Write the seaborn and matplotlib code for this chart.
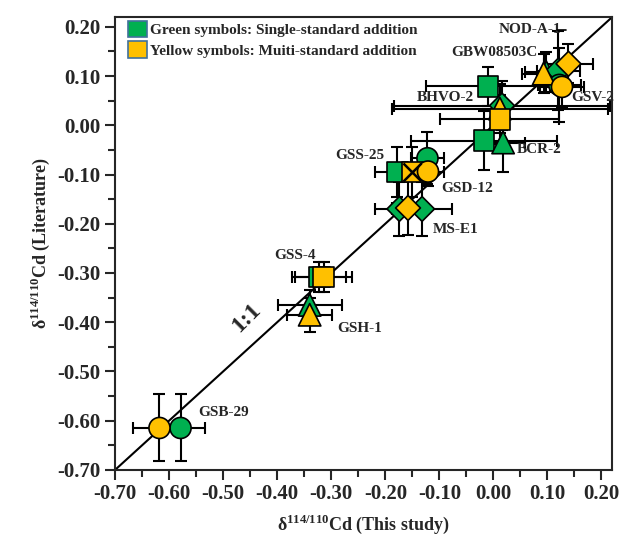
import numpy as np
import pandas as pd
import seaborn as sns
import matplotlib.pyplot as plt
from matplotlib.ticker import MultipleLocator, FormatStrFormatter
from matplotlib.patches import Patch

sns.set_style("ticks")
plt.rcParams['font.family'] = ['Liberation Serif', 'DejaVu Serif']
plt.rcParams['font.weight'] = 'bold'
plt.rcParams['axes.unicode_minus'] = False
plt.rcParams['mathtext.fontset'] = 'custom'
plt.rcParams['mathtext.rm'] = 'Liberation Serif:bold'
plt.rcParams['mathtext.bf'] = 'Liberation Serif:bold'

# green = single-standard addition, yellow = multi-standard addition
green_sample = ["GSB-29", "GSH-1", "GSS-4", "MS-E1", "MS-E1", "GSS-25", "GSD-12",
                "BCR-2", "BCR-2", "BHVO-2", "BHVO-2", "GBW08503C", "NOD-A-1", "GSV-2"]
green_shape = ["circle", "triangle", "square", "diamond", "diamond", "square", "circle",
               "square", "triangle", "square", "diamond", "triangle", "diamond", "circle"]
green_x = [-0.579, -0.340, -0.322, -0.174, -0.132, -0.178, -0.122,
           -0.017, 0.018, -0.010, 0.016, 0.098, 0.120, 0.122]
green_y = [-0.615, -0.365, -0.308, -0.170, -0.170, -0.095, -0.067,
           -0.031, -0.035, 0.079, 0.040, 0.108, 0.111, 0.082]
green_xerr = [0.045, 0.059, 0.050, 0.046, 0.055, 0.042, 0.030,
              0.135, 0.040, 0.115, 0.200, 0.040, 0.040, 0.040]
green_yerr = [0.068, 0.030, 0.030, 0.055, 0.055, 0.050, 0.053,
              0.060, 0.060, 0.040, 0.050, 0.040, 0.080, 0.075]

yellow_sample = ["GSB-29", "GSH-1", "GSS-4", "MS-E1", "GSS-25", "GSD-12",
                 "BHVO-2", "BCR-2", "GBW08503C", "NOD-A-1", "GSV-2"]
yellow_shape = ["circle", "triangle", "square", "diamond", "square", "circle",
                "triangle", "square", "triangle", "diamond", "circle"]
yellow_x = [-0.618, -0.340, -0.314, -0.158, -0.150, -0.121,
            0.012, 0.012, 0.093, 0.139, 0.127]
yellow_y = [-0.615, -0.385, -0.308, -0.168, -0.095, -0.094,
            0.034, 0.012, 0.105, 0.125, 0.078]
yellow_xerr = [0.049, 0.042, 0.053, 0.030, 0.030, 0.030,
               0.200, 0.110, 0.040, 0.045, 0.040]
yellow_yerr = [0.068, 0.035, 0.030, 0.055, 0.050, 0.030,
               0.050, 0.050, 0.040, 0.040, 0.040]

labels = ["NOD-A-1", "GBW08503C", "BHVO-2", "GSV-2", "BCR-2", "GSS-25",
          "GSD-12", "MS-E1", "GSS-4", "GSH-1", "GSB-29"]
label_x = [0.010, -0.078, -0.141, 0.145, 0.044, -0.292, -0.097, -0.113, -0.405, -0.289, -0.547]
label_y = [0.195, 0.148, 0.057, 0.057, -0.049, -0.061, -0.128, -0.211, -0.264, -0.412, -0.584]

green_col = "#00B050"
yellow_col = "#FFC000"

df = pd.DataFrame({
    "x": green_x + yellow_x,
    "y": green_y + yellow_y,
    "method": ["single"] * len(green_x) + ["multi"] * len(yellow_x),
    "shape": green_shape + yellow_shape,
})

fig = plt.figure(figsize=(6.26, 5.4), dpi=100)
ax = fig.add_axes([0.184, 0.130, 0.794, 0.8385])

ax.plot([-0.7, 0.22], [-0.7, 0.22], color="black", lw=1.5, zorder=1)

ax.errorbar(green_x, green_y, xerr=green_xerr, yerr=green_yerr, fmt="none",
            ecolor="black", elinewidth=1.5, capsize=4, capthick=1.5, zorder=2)
ax.errorbar(yellow_x, yellow_y, xerr=yellow_xerr, yerr=yellow_yerr, fmt="none",
            ecolor="black", elinewidth=1.5, capsize=4, capthick=1.5, zorder=2)

sns.scatterplot(data=df, x="x", y="y", hue="method", style="shape", size="shape",
                palette={"single": green_col, "multi": yellow_col},
                markers={"circle": "o", "triangle": "^", "square": "s", "diamond": "D"},
                sizes={"circle": 230, "triangle": 260, "square": 220, "diamond": 160},
                edgecolor="black", linewidth=1.2, legend=False, ax=ax, zorder=3)

# black cross on the GSS-25 yellow square
ax.scatter([yellow_x[4]], [yellow_y[4]], marker="x", s=170, color="black", linewidths=1.8, zorder=4)

for t, lx, ly in zip(labels, label_x, label_y):
    ax.text(lx, ly, t, fontsize=11, fontweight="bold", ha="left", va="center",
            zorder=5, clip_on=False)
# leader from NOD-A-1 label to its error bar
ax.plot([0.117, 0.134], [0.193, 0.193], color="black", lw=1.2, zorder=5)

ax.text(-0.458, -0.392, "1:1", fontsize=17, fontweight="bold", rotation=45,
        ha="center", va="center")

ax.set_xlim(-0.70, 0.22)
ax.set_ylim(-0.70, 0.22)
for a in (ax.xaxis, ax.yaxis):
    a.set_major_locator(MultipleLocator(0.1))
    a.set_minor_locator(MultipleLocator(0.05))
    a.set_major_formatter(FormatStrFormatter("%.2f"))
ax.tick_params(which="major", direction="out", length=7, width=1.5, labelsize=15)
ax.tick_params(which="minor", direction="out", length=5, width=1.5)
for lab in ax.get_xticklabels() + ax.get_yticklabels():
    lab.set_fontweight("bold")
for sp in ax.spines.values():
    sp.set_linewidth(1.5)
    sp.set_visible(True)

ax.set_xlabel("δ$^{114/110}$Cd (This study)", fontsize=13, fontweight="bold", labelpad=6)
ax.set_ylabel("δ$^{114/110}$Cd (Literature)", fontsize=13, fontweight="bold", labelpad=4)

handles = [Patch(facecolor=green_col, edgecolor="#41719C", lw=1.2),
           Patch(facecolor=yellow_col, edgecolor="#41719C", lw=1.2)]
ax.legend(handles, ["Green symbols: Single-standard addition",
                    "Yellow symbols: Muiti-standard addition"],
          loc="upper left", bbox_to_anchor=(0.008, 1.012), frameon=False,
          prop={"size": 11, "weight": "bold"}, handlelength=1.25, handleheight=1.3,
          handletextpad=0.2, borderaxespad=0.2, labelspacing=0.25)

fig.savefig("out.png", dpi=100)
